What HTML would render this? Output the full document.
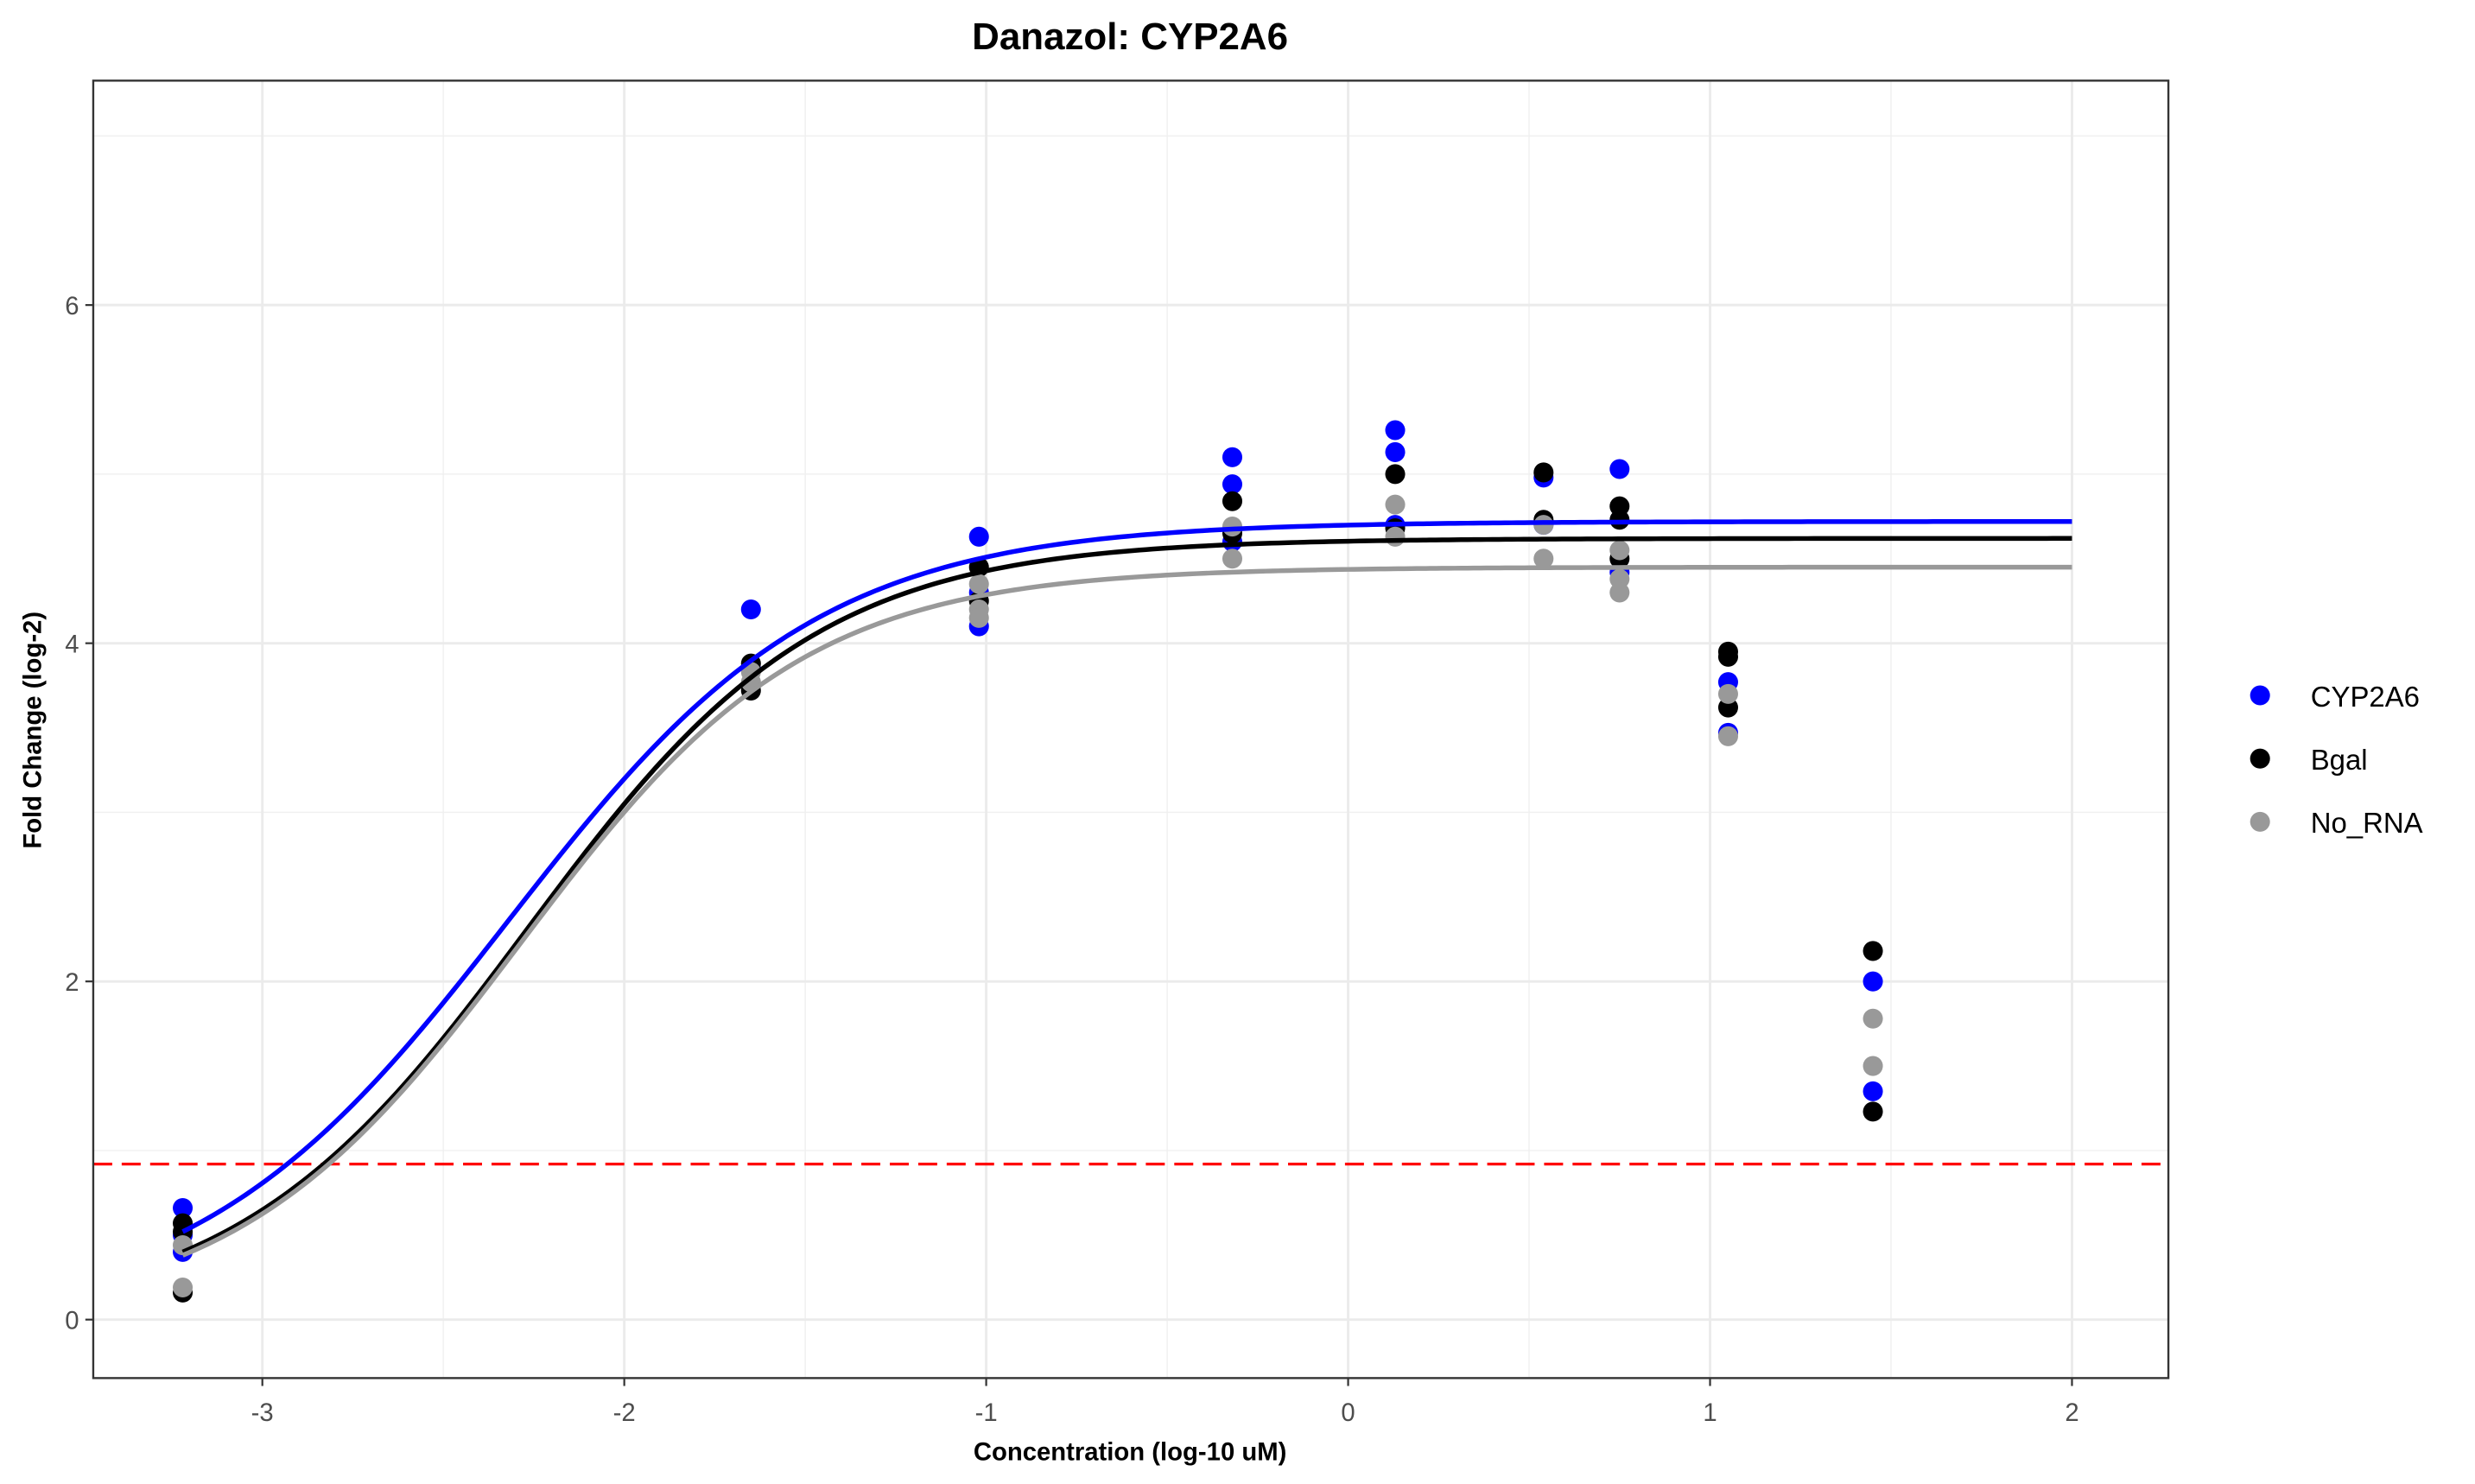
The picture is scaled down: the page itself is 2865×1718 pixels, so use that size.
<!DOCTYPE html>
<html><head><meta charset="utf-8"><style>
html,body{margin:0;padding:0;background:#fff;}
svg{display:block;font-family:"Liberation Sans",Arial,sans-serif;}
</style></head><body>
<svg id="chart" width="2865" height="1718" viewBox="0 0 1566 939" xmlns="http://www.w3.org/2000/svg">
<rect x="0" y="0" width="1566" height="939" fill="#fff"/>
<text x="715" y="31" text-anchor="middle" font-size="24" font-weight="bold" fill="#000">Danazol: CYP2A6</text>
<g id="grid"></g>
<g id="plot"></g>
<rect x="59" y="51" width="1313" height="821" fill="none" stroke="#333" stroke-width="1.3"/>
<g id="axes"></g>
<text x="715" y="924" text-anchor="middle" font-size="16" font-weight="bold" fill="#000">Concentration (log-10 uM)</text>
<text transform="translate(26,462) rotate(-90)" text-anchor="middle" font-size="16" font-weight="bold" fill="#000">Fold Change (log-2)</text>
<g id="legend"></g>
</svg>
<script>
const seriesNames = ["CYP2A6","Bgal","No_RNA"];
const seriesColors = ["#0000ff","#000000","#999999"];
const xTicks = [-3,-2,-1,0,1,2];
const yTicks = [0,2,4,6];
const thresholdY = 0.92;
// 4PL fit params: [bottom, top, ec50, hill]
const fitCYP2A6 = [0, 4.72, -2.32, 1.008];
const fitBgal = [0, 4.62, -2.268, 1.075];
const fitNoRNA = [0, 4.45, -2.287, 1.103];
const ptsCYP2A6 = [[-3.22,0.66],[-3.22,0.4],[-3.22,0.5],[-1.65,4.2],[-1.65,3.85],[-1.02,4.63],[-1.02,4.1],[-1.02,4.3],[-0.32,5.1],[-0.32,4.94],[-0.32,4.6],[0.13,5.26],[0.13,5.13],[0.13,4.7],[0.54,4.98],[0.54,4.7],[0.75,5.03],[0.75,4.42],[1.05,3.77],[1.05,3.47],[1.45,2.0],[1.45,1.35]];
const ptsBgal = [[-3.22,0.57],[-3.22,0.16],[-3.22,0.52],[-1.65,3.88],[-1.65,3.72],[-1.02,4.45],[-1.02,4.25],[-0.32,4.84],[-0.32,4.65],[0.13,5.0],[0.13,4.68],[0.54,5.01],[0.54,4.73],[0.75,4.81],[0.75,4.73],[0.75,4.5],[1.05,3.95],[1.05,3.92],[1.05,3.62],[1.45,2.18],[1.45,1.23]];
const ptsNoRNA = [[-3.22,0.44],[-3.22,0.19],[-1.65,3.83],[-1.65,3.77],[-1.02,4.35],[-1.02,4.2],[-1.02,4.15],[-0.32,4.69],[-0.32,4.5],[0.13,4.82],[0.13,4.63],[0.54,4.7],[0.54,4.5],[0.75,4.55],[0.75,4.38],[0.75,4.3],[1.05,3.7],[1.05,3.45],[1.45,1.78],[1.45,1.5]];

const NS="http://www.w3.org/2000/svg";
const X0=59,X1=1372,Y0=51,Y1=872;
const xs=v=>853+v*229;
const ys=v=>835-v*107;
function mk(tag,attrs,parent){const e=document.createElementNS(NS,tag);for(const k in attrs)e.setAttribute(k,attrs[k]);parent.appendChild(e);return e;}
const grid=document.getElementById('grid'),plot=document.getElementById('plot'),axes=document.getElementById('axes'),legend=document.getElementById('legend');
for(let v=-3.5;v<=2.5;v+=1){const x=xs(v);if(x>X0&&x<X1){const l=mk('line',{x1:x,x2:x,y1:Y0,y2:Y1,stroke:'#f0f0f0','stroke-width':0.8},grid);}}
for(let v=-1;v<=7;v+=2){const y=ys(v);if(y>Y0&&y<Y1){const l=mk('line',{x1:X0,x2:X1,y1:y,y2:y,stroke:'#f0f0f0','stroke-width':0.8},grid);}}
xTicks.forEach(v=>{const x=xs(v);const l=mk('line',{x1:x,x2:x,y1:Y0,y2:Y1,stroke:'#ebebeb','stroke-width':1.6},grid);
 const t=mk('line',{x1:x,x2:x,y1:Y1,y2:Y1+5,stroke:'#333','stroke-width':1.2},axes);
 const tx=mk('text',{x:x,y:Y1+27,'text-anchor':'middle','font-size':16,fill:'#4d4d4d'},axes);tx.textContent=v;});
yTicks.forEach(v=>{const y=ys(v);const l=mk('line',{x1:X0,x2:X1,y1:y,y2:y,stroke:'#ebebeb','stroke-width':1.6},grid);
 const t=mk('line',{x1:X0-5,x2:X0,y1:y,y2:y,stroke:'#333','stroke-width':1.2},axes);
 const tx=mk('text',{x:X0-9,y:y+6,'text-anchor':'end','font-size':16,fill:'#4d4d4d'},axes);tx.textContent=v;});
const th=mk('line',{x1:X0,x2:X1,y1:ys(thresholdY),y2:ys(thresholdY),stroke:'#ff0000','stroke-width':1.8,'stroke-dasharray':'12,6'},plot);

const fits=[fitCYP2A6,fitBgal,fitNoRNA];
const pts=[ptsCYP2A6,ptsBgal,ptsNoRNA];
pts.forEach((arr,i)=>{arr.forEach(p=>{const c=mk('circle',{cx:xs(p[0]),cy:ys(p[1]),r:6.3,fill:seriesColors[i]},plot);});});
fits.forEach((f,i)=>{let d='';for(let k=0;k<=300;k++){const x=-3.22+(2-(-3.22))*k/300;const y=f[0]+(f[1]-f[0])/(1+Math.pow(10,(f[2]-x)*f[3]));d+=(k?'L':'M')+xs(x).toFixed(2)+','+ys(y).toFixed(2);}
 const p=mk('path',{d:d,fill:'none',stroke:seriesColors[i],'stroke-width':3},plot);});
seriesNames.forEach((n,i)=>{const y=440+i*40;const c=mk('circle',{cx:1430,cy:y,r:6.3,fill:seriesColors[i]},legend);
 const t=mk('text',{x:1462,y:y+7,'font-size':18,fill:'#000'},legend);t.textContent=n;});
</script>
</body></html>
